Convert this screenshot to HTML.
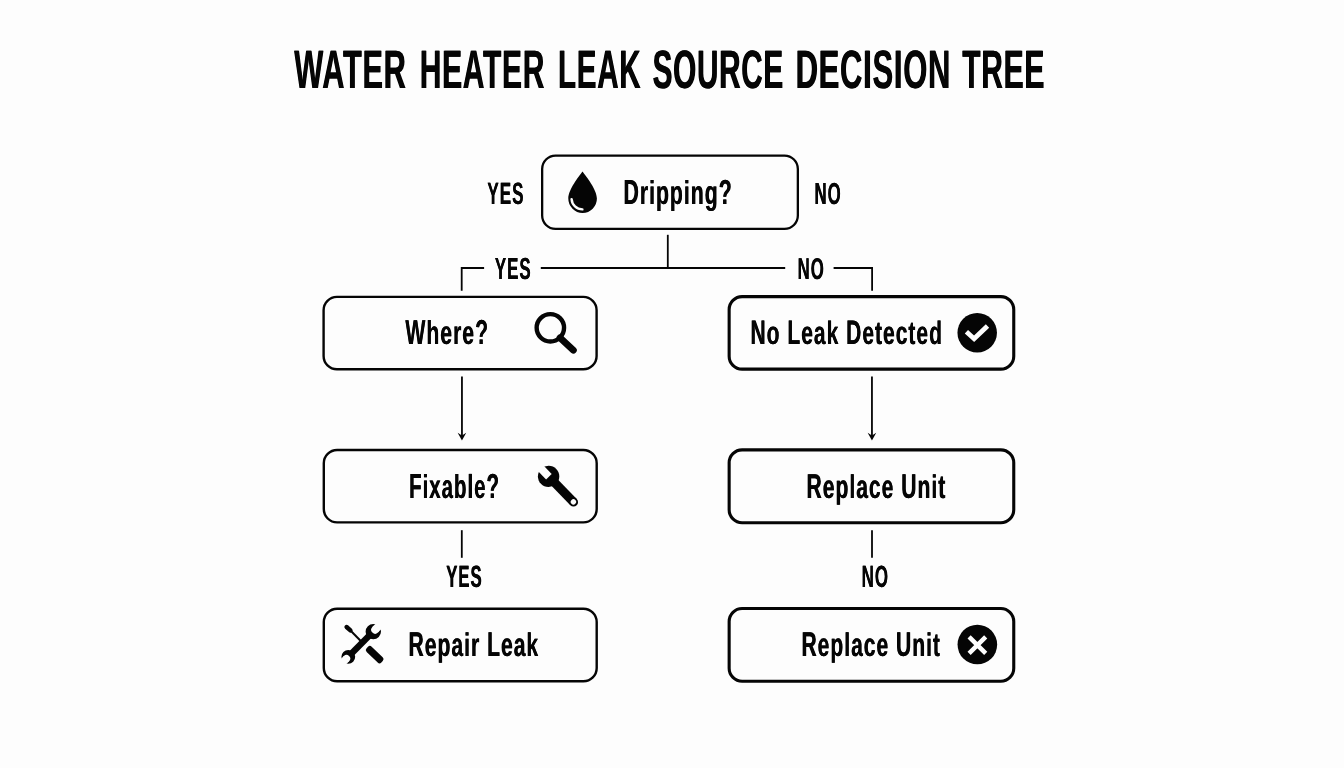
<!DOCTYPE html>
<html><head><meta charset="utf-8"><title>Water Heater Leak Source Decision Tree</title>
<style>html,body{margin:0;padding:0;background:#fdfdfd;}body{width:1344px;height:768px;overflow:hidden;font-family:"Liberation Sans",sans-serif;}svg{display:block}</style></head>
<body><svg width="1344" height="768" viewBox="0 0 1344 768">
<rect width="1344" height="768" fill="#fdfdfd"/>
<rect x="542.15" y="155.65" width="255.70" height="73.20" rx="13.35" fill="#fdfdfd" stroke="#050505" stroke-width="2.3"/>
<rect x="323.60" y="296.90" width="273.00" height="72.40" rx="13.30" fill="#fdfdfd" stroke="#050505" stroke-width="2.4"/>
<rect x="729.15" y="296.65" width="284.60" height="72.50" rx="12.95" fill="#fdfdfd" stroke="#050505" stroke-width="3.1"/>
<rect x="323.80" y="450.00" width="272.90" height="72.40" rx="13.30" fill="#fdfdfd" stroke="#050505" stroke-width="2.4"/>
<rect x="729.15" y="449.85" width="284.60" height="72.90" rx="12.95" fill="#fdfdfd" stroke="#050505" stroke-width="3.1"/>
<rect x="323.80" y="608.80" width="272.90" height="72.40" rx="13.30" fill="#fdfdfd" stroke="#050505" stroke-width="2.4"/>
<rect x="729.15" y="608.55" width="284.60" height="72.70" rx="12.95" fill="#fdfdfd" stroke="#050505" stroke-width="3.1"/>
<line x1="667.8" y1="234.8" x2="667.8" y2="268" fill="none" stroke="#050505" stroke-width="1.8"/>
<polyline points="484.1,268 461.7,268 461.7,290.8" fill="none" stroke="#050505" stroke-width="1.8" stroke-linejoin="miter"/>
<line x1="540.8" y1="268" x2="785.2" y2="268" fill="none" stroke="#050505" stroke-width="1.8"/>
<polyline points="833.6,268 872.1,268 872.1,290.8" fill="none" stroke="#050505" stroke-width="1.8" stroke-linejoin="miter"/>
<line x1="461.95" y1="376.5" x2="461.95" y2="436.4" fill="none" stroke="#050505" stroke-width="1.8"/><polygon points="457.65,432.79999999999995 461.95,440.4 466.25,432.79999999999995 461.95,435.4" fill="#050505"/>
<line x1="871.95" y1="376.5" x2="871.95" y2="436.4" fill="none" stroke="#050505" stroke-width="1.8"/><polygon points="867.6500000000001,432.79999999999995 871.95,440.4 876.25,432.79999999999995 871.95,435.4" fill="#050505"/>
<line x1="461.8" y1="530.2" x2="461.8" y2="557.8" fill="none" stroke="#050505" stroke-width="1.8"/>
<line x1="872" y1="530.2" x2="872" y2="557.8" fill="none" stroke="#050505" stroke-width="1.8"/>
<path d="M582.5 171.6 C579 176.5 568.3 189.5 568.3 198.6 A14.3 14.3 0 0 0 596.9 198.6 C596.9 189.5 586 176.5 582.5 171.6 Z" fill="#050505"/>
<path d="M571.6 199.2 A10.9 10.9 0 0 0 582.4 209.4" fill="none" stroke="#fdfdfd" stroke-width="2.4" stroke-linecap="round"/>
<circle cx="550.35" cy="327.8" r="13.7" fill="none" stroke="#050505" stroke-width="4.4"/>
<line x1="560" y1="337.8" x2="573.4" y2="350.2" stroke="#050505" stroke-width="6.8" stroke-linecap="round"/>
<circle cx="977.2" cy="332.75" r="19.75" fill="#050505"/>
<polyline points="966.4,331.8 974.1,338.8 987.5,325.9" fill="none" stroke="#fdfdfd" stroke-width="4.8" stroke-linejoin="miter"/>
<circle cx="977.35" cy="644.55" r="19.8" fill="#050505"/>
<path d="M969.1 636.9 L985.7 653.3 M985.7 636.9 L969.1 653.3" fill="none" stroke="#fdfdfd" stroke-width="4.5"/>
<g transform="translate(548.6,476.4) rotate(45.8)">
<circle cx="0" cy="0" r="10.7" fill="#050505"/>
<rect x="0" y="-4.5" width="35.8" height="9" fill="#050505"/>
<circle cx="35.8" cy="0" r="4.5" fill="#050505"/>
<rect x="-12" y="-3.9" width="12.4" height="7.8" fill="#fdfdfd"/>
<circle cx="35.6" cy="0" r="2.7" fill="#fdfdfd"/>
</g>
<defs><mask id="wm" maskUnits="userSpaceOnUse" x="330" y="610" width="70" height="70">
<rect x="330" y="610" width="70" height="70" fill="black"/>
<g transform="translate(348.3,656.8) rotate(-45.23)">
<rect x="0" y="-3.2" width="35.50" height="6.4" fill="white"/>
<circle cx="35.50" cy="0" r="7.7" fill="white"/>
<circle cx="0" cy="0" r="6.9" fill="white"/>
<circle cx="38.10" cy="0" r="3.9" fill="black"/>
<rect x="38.10" y="-3.9" width="10" height="7.8" fill="black"/>
<circle cx="-2.6" cy="0" r="3.7" fill="black"/>
<rect x="-12.6" y="-3.7" width="10" height="7.4" fill="black"/>
</g></mask></defs>
<line x1="346.6" y1="627" x2="350.4" y2="630.4" stroke="#050505" stroke-width="4.4" stroke-linecap="round"/>
<line x1="350" y1="630" x2="362" y2="642.3" stroke="#050505" stroke-width="2"/>
<rect x="0" y="-3.6" width="20.5" height="7.2" rx="2.6" fill="#050505" transform="translate(367.3,647.5) rotate(44)"/>
<rect x="330" y="610" width="70" height="70" fill="#050505" mask="url(#wm)"/>

<g fill="#050505" font-family="Liberation Sans" font-weight="bold" text-rendering="geometricPrecision" opacity="0.999"><text transform="translate(294.00,87.6) scale(0.5673,1)" font-size="54.215">W</text><text transform="translate(322.02,87.6) scale(0.5673,1)" font-size="54.215">A</text><text transform="translate(342.65,87.6) scale(0.5673,1)" font-size="54.215">T</text><text transform="translate(362.13,87.6) scale(0.5673,1)" font-size="54.215">E</text><text transform="translate(383.34,87.6) scale(0.5673,1)" font-size="54.215">R</text><text transform="translate(294.60,87.6) scale(0.5673,1)" font-size="54.215">W</text><text transform="translate(322.62,87.6) scale(0.5673,1)" font-size="54.215">A</text><text transform="translate(343.25,87.6) scale(0.5673,1)" font-size="54.215">T</text><text transform="translate(362.73,87.6) scale(0.5673,1)" font-size="54.215">E</text><text transform="translate(383.94,87.6) scale(0.5673,1)" font-size="54.215">R</text><text transform="translate(419.45,87.6) scale(0.5534,1)" font-size="54.215">H</text><text transform="translate(441.81,87.6) scale(0.5534,1)" font-size="54.215">E</text><text transform="translate(462.51,87.6) scale(0.5534,1)" font-size="54.215">A</text><text transform="translate(482.65,87.6) scale(0.5534,1)" font-size="54.215">T</text><text transform="translate(501.67,87.6) scale(0.5534,1)" font-size="54.215">E</text><text transform="translate(522.38,87.6) scale(0.5534,1)" font-size="54.215">R</text><text transform="translate(420.05,87.6) scale(0.5534,1)" font-size="54.215">H</text><text transform="translate(442.41,87.6) scale(0.5534,1)" font-size="54.215">E</text><text transform="translate(463.11,87.6) scale(0.5534,1)" font-size="54.215">A</text><text transform="translate(483.25,87.6) scale(0.5534,1)" font-size="54.215">T</text><text transform="translate(502.27,87.6) scale(0.5534,1)" font-size="54.215">E</text><text transform="translate(522.98,87.6) scale(0.5534,1)" font-size="54.215">R</text><text transform="translate(557.68,87.6) scale(0.546,1)" font-size="54.215">L</text><text transform="translate(576.46,87.6) scale(0.546,1)" font-size="54.215">E</text><text transform="translate(596.89,87.6) scale(0.546,1)" font-size="54.215">A</text><text transform="translate(618.97,87.6) scale(0.546,1)" font-size="54.215">K</text><text transform="translate(558.28,87.6) scale(0.546,1)" font-size="54.215">L</text><text transform="translate(577.06,87.6) scale(0.546,1)" font-size="54.215">E</text><text transform="translate(597.49,87.6) scale(0.546,1)" font-size="54.215">A</text><text transform="translate(619.57,87.6) scale(0.546,1)" font-size="54.215">K</text><text transform="translate(652.31,87.6) scale(0.5481,1)" font-size="54.215">S</text><text transform="translate(672.82,87.6) scale(0.5481,1)" font-size="54.215">O</text><text transform="translate(696.63,87.6) scale(0.5481,1)" font-size="54.215">U</text><text transform="translate(718.78,87.6) scale(0.5481,1)" font-size="54.215">R</text><text transform="translate(740.94,87.6) scale(0.5481,1)" font-size="54.215">C</text><text transform="translate(763.09,87.6) scale(0.5481,1)" font-size="54.215">E</text><text transform="translate(652.91,87.6) scale(0.5481,1)" font-size="54.215">S</text><text transform="translate(673.42,87.6) scale(0.5481,1)" font-size="54.215">O</text><text transform="translate(697.23,87.6) scale(0.5481,1)" font-size="54.215">U</text><text transform="translate(719.38,87.6) scale(0.5481,1)" font-size="54.215">R</text><text transform="translate(741.54,87.6) scale(0.5481,1)" font-size="54.215">C</text><text transform="translate(763.69,87.6) scale(0.5481,1)" font-size="54.215">E</text><text transform="translate(795.28,87.6) scale(0.5722,1)" font-size="54.215">D</text><text transform="translate(818.37,87.6) scale(0.5722,1)" font-size="54.215">E</text><text transform="translate(839.76,87.6) scale(0.5722,1)" font-size="54.215">C</text><text transform="translate(862.86,87.6) scale(0.5722,1)" font-size="54.215">I</text><text transform="translate(872.18,87.6) scale(0.5722,1)" font-size="54.215">S</text><text transform="translate(893.56,87.6) scale(0.5722,1)" font-size="54.215">I</text><text transform="translate(902.88,87.6) scale(0.5722,1)" font-size="54.215">O</text><text transform="translate(927.70,87.6) scale(0.5722,1)" font-size="54.215">N</text><text transform="translate(795.88,87.6) scale(0.5722,1)" font-size="54.215">D</text><text transform="translate(818.97,87.6) scale(0.5722,1)" font-size="54.215">E</text><text transform="translate(840.36,87.6) scale(0.5722,1)" font-size="54.215">C</text><text transform="translate(863.46,87.6) scale(0.5722,1)" font-size="54.215">I</text><text transform="translate(872.78,87.6) scale(0.5722,1)" font-size="54.215">S</text><text transform="translate(894.16,87.6) scale(0.5722,1)" font-size="54.215">I</text><text transform="translate(903.48,87.6) scale(0.5722,1)" font-size="54.215">O</text><text transform="translate(928.30,87.6) scale(0.5722,1)" font-size="54.215">N</text><text transform="translate(961.90,87.6) scale(0.5541,1)" font-size="54.215">T</text><text transform="translate(980.94,87.6) scale(0.5541,1)" font-size="54.215">R</text><text transform="translate(1003.33,87.6) scale(0.5541,1)" font-size="54.215">E</text><text transform="translate(1024.06,87.6) scale(0.5541,1)" font-size="54.215">E</text><text transform="translate(962.50,87.6) scale(0.5541,1)" font-size="54.215">T</text><text transform="translate(981.54,87.6) scale(0.5541,1)" font-size="54.215">R</text><text transform="translate(1003.93,87.6) scale(0.5541,1)" font-size="54.215">E</text><text transform="translate(1024.66,87.6) scale(0.5541,1)" font-size="54.215">E</text><text transform="translate(487.26,203.9) scale(0.5503,1)" font-size="30.959">Y</text><text transform="translate(499.61,203.9) scale(0.5503,1)" font-size="30.959">E</text><text transform="translate(511.96,203.9) scale(0.5503,1)" font-size="30.959">S</text><text transform="translate(487.61,203.9) scale(0.5503,1)" font-size="30.959">Y</text><text transform="translate(499.96,203.9) scale(0.5503,1)" font-size="30.959">E</text><text transform="translate(512.31,203.9) scale(0.5503,1)" font-size="30.959">S</text><text transform="translate(814.31,203.9) scale(0.5507,1)" font-size="30.523">N</text><text transform="translate(827.44,203.9) scale(0.5507,1)" font-size="30.523">O</text><text transform="translate(814.66,203.9) scale(0.5507,1)" font-size="30.523">N</text><text transform="translate(827.79,203.9) scale(0.5507,1)" font-size="30.523">O</text><text transform="translate(623.32,203.6) scale(0.6085,1)" font-size="34.884">D</text><text transform="translate(639.64,203.6) scale(0.6085,0.954)" font-size="34.884">r</text><text transform="translate(648.90,203.6) scale(0.6085,0.954)" font-size="34.884">i</text><text transform="translate(655.80,203.6) scale(0.6085,0.954)" font-size="34.884">p</text><text transform="translate(669.76,203.6) scale(0.6085,0.954)" font-size="34.884">p</text><text transform="translate(683.72,203.6) scale(0.6085,0.954)" font-size="34.884">i</text><text transform="translate(690.62,203.6) scale(0.6085,0.954)" font-size="34.884">n</text><text transform="translate(704.57,203.6) scale(0.6085,0.954)" font-size="34.884">g</text><text transform="translate(718.54,203.6) scale(0.6085,1)" font-size="34.884">?</text><text transform="translate(623.67,203.6) scale(0.6085,1)" font-size="34.884">D</text><text transform="translate(639.99,203.6) scale(0.6085,0.954)" font-size="34.884">r</text><text transform="translate(649.25,203.6) scale(0.6085,0.954)" font-size="34.884">i</text><text transform="translate(656.15,203.6) scale(0.6085,0.954)" font-size="34.884">p</text><text transform="translate(670.11,203.6) scale(0.6085,0.954)" font-size="34.884">p</text><text transform="translate(684.07,203.6) scale(0.6085,0.954)" font-size="34.884">i</text><text transform="translate(690.97,203.6) scale(0.6085,0.954)" font-size="34.884">n</text><text transform="translate(704.92,203.6) scale(0.6085,0.954)" font-size="34.884">g</text><text transform="translate(718.89,203.6) scale(0.6085,1)" font-size="34.884">?</text><text transform="translate(494.66,279.2) scale(0.5548,1)" font-size="30.523">Y</text><text transform="translate(506.95,279.2) scale(0.5548,1)" font-size="30.523">E</text><text transform="translate(519.24,279.2) scale(0.5548,1)" font-size="30.523">S</text><text transform="translate(495.01,279.2) scale(0.5548,1)" font-size="30.523">Y</text><text transform="translate(507.30,279.2) scale(0.5548,1)" font-size="30.523">E</text><text transform="translate(519.59,279.2) scale(0.5548,1)" font-size="30.523">S</text><text transform="translate(797.51,279.0) scale(0.5537,1)" font-size="30.233">N</text><text transform="translate(810.59,279.0) scale(0.5537,1)" font-size="30.233">O</text><text transform="translate(797.86,279.0) scale(0.5537,1)" font-size="30.233">N</text><text transform="translate(810.94,279.0) scale(0.5537,1)" font-size="30.233">O</text><text transform="translate(405.20,344.3) scale(0.6122,1)" font-size="34.593">W</text><text transform="translate(426.18,344.3) scale(0.6122,0.954)" font-size="34.593">h</text><text transform="translate(440.11,344.3) scale(0.6122,0.954)" font-size="34.593">e</text><text transform="translate(452.88,344.3) scale(0.6122,0.954)" font-size="34.593">r</text><text transform="translate(462.12,344.3) scale(0.6122,0.954)" font-size="34.593">e</text><text transform="translate(474.89,344.3) scale(0.6122,1)" font-size="34.593">?</text><text transform="translate(405.55,344.3) scale(0.6122,1)" font-size="34.593">W</text><text transform="translate(426.53,344.3) scale(0.6122,0.954)" font-size="34.593">h</text><text transform="translate(440.46,344.3) scale(0.6122,0.954)" font-size="34.593">e</text><text transform="translate(453.23,344.3) scale(0.6122,0.954)" font-size="34.593">r</text><text transform="translate(462.47,344.3) scale(0.6122,0.954)" font-size="34.593">e</text><text transform="translate(475.24,344.3) scale(0.6122,1)" font-size="34.593">?</text><text transform="translate(750.33,344.0) scale(0.6185,1)" font-size="34.012">N</text><text transform="translate(766.51,344.0) scale(0.6185,0.954)" font-size="34.012">o</text><text transform="translate(787.20,344.0) scale(0.6185,1)" font-size="34.012">L</text><text transform="translate(801.05,344.0) scale(0.6185,0.954)" font-size="34.012">e</text><text transform="translate(813.74,344.0) scale(0.6185,0.954)" font-size="34.012">a</text><text transform="translate(826.43,344.0) scale(0.6185,0.954)" font-size="34.012">k</text><text transform="translate(845.98,344.0) scale(0.6185,1)" font-size="34.012">D</text><text transform="translate(862.16,344.0) scale(0.6185,0.954)" font-size="34.012">e</text><text transform="translate(874.85,344.0) scale(0.6185,0.954)" font-size="34.012">t</text><text transform="translate(882.86,344.0) scale(0.6185,0.954)" font-size="34.012">e</text><text transform="translate(895.55,344.0) scale(0.6185,0.954)" font-size="34.012">c</text><text transform="translate(908.25,344.0) scale(0.6185,0.954)" font-size="34.012">t</text><text transform="translate(916.25,344.0) scale(0.6185,0.954)" font-size="34.012">e</text><text transform="translate(928.95,344.0) scale(0.6185,0.954)" font-size="34.012">d</text><text transform="translate(750.68,344.0) scale(0.6185,1)" font-size="34.012">N</text><text transform="translate(766.86,344.0) scale(0.6185,0.954)" font-size="34.012">o</text><text transform="translate(787.55,344.0) scale(0.6185,1)" font-size="34.012">L</text><text transform="translate(801.40,344.0) scale(0.6185,0.954)" font-size="34.012">e</text><text transform="translate(814.09,344.0) scale(0.6185,0.954)" font-size="34.012">a</text><text transform="translate(826.78,344.0) scale(0.6185,0.954)" font-size="34.012">k</text><text transform="translate(846.33,344.0) scale(0.6185,1)" font-size="34.012">D</text><text transform="translate(862.51,344.0) scale(0.6185,0.954)" font-size="34.012">e</text><text transform="translate(875.20,344.0) scale(0.6185,0.954)" font-size="34.012">t</text><text transform="translate(883.21,344.0) scale(0.6185,0.954)" font-size="34.012">e</text><text transform="translate(895.90,344.0) scale(0.6185,0.954)" font-size="34.012">c</text><text transform="translate(908.60,344.0) scale(0.6185,0.954)" font-size="34.012">t</text><text transform="translate(916.60,344.0) scale(0.6185,0.954)" font-size="34.012">e</text><text transform="translate(929.30,344.0) scale(0.6185,0.954)" font-size="34.012">d</text><text transform="translate(408.97,498) scale(0.5854,1)" font-size="34.884">F</text><text transform="translate(422.43,498) scale(0.5854,0.954)" font-size="34.884">i</text><text transform="translate(429.11,498) scale(0.5854,0.954)" font-size="34.884">x</text><text transform="translate(441.46,498) scale(0.5854,0.954)" font-size="34.884">a</text><text transform="translate(453.82,498) scale(0.5854,0.954)" font-size="34.884">b</text><text transform="translate(467.29,498) scale(0.5854,0.954)" font-size="34.884">l</text><text transform="translate(473.96,498) scale(0.5854,0.954)" font-size="34.884">e</text><text transform="translate(486.32,498) scale(0.5854,1)" font-size="34.884">?</text><text transform="translate(409.32,498) scale(0.5854,1)" font-size="34.884">F</text><text transform="translate(422.78,498) scale(0.5854,0.954)" font-size="34.884">i</text><text transform="translate(429.46,498) scale(0.5854,0.954)" font-size="34.884">x</text><text transform="translate(441.81,498) scale(0.5854,0.954)" font-size="34.884">a</text><text transform="translate(454.17,498) scale(0.5854,0.954)" font-size="34.884">b</text><text transform="translate(467.64,498) scale(0.5854,0.954)" font-size="34.884">l</text><text transform="translate(474.31,498) scale(0.5854,0.954)" font-size="34.884">e</text><text transform="translate(486.67,498) scale(0.5854,1)" font-size="34.884">?</text><text transform="translate(806.33,498) scale(0.6124,1)" font-size="34.448">R</text><text transform="translate(822.56,498) scale(0.6124,0.954)" font-size="34.448">e</text><text transform="translate(835.28,498) scale(0.6124,0.954)" font-size="34.448">p</text><text transform="translate(849.17,498) scale(0.6124,0.954)" font-size="34.448">l</text><text transform="translate(856.03,498) scale(0.6124,0.954)" font-size="34.448">a</text><text transform="translate(868.76,498) scale(0.6124,0.954)" font-size="34.448">c</text><text transform="translate(881.48,498) scale(0.6124,0.954)" font-size="34.448">e</text><text transform="translate(901.07,498) scale(0.6124,1)" font-size="34.448">U</text><text transform="translate(917.30,498) scale(0.6124,0.954)" font-size="34.448">n</text><text transform="translate(931.18,498) scale(0.6124,0.954)" font-size="34.448">i</text><text transform="translate(938.04,498) scale(0.6124,0.954)" font-size="34.448">t</text><text transform="translate(806.68,498) scale(0.6124,1)" font-size="34.448">R</text><text transform="translate(822.91,498) scale(0.6124,0.954)" font-size="34.448">e</text><text transform="translate(835.63,498) scale(0.6124,0.954)" font-size="34.448">p</text><text transform="translate(849.52,498) scale(0.6124,0.954)" font-size="34.448">l</text><text transform="translate(856.38,498) scale(0.6124,0.954)" font-size="34.448">a</text><text transform="translate(869.11,498) scale(0.6124,0.954)" font-size="34.448">c</text><text transform="translate(881.83,498) scale(0.6124,0.954)" font-size="34.448">e</text><text transform="translate(901.42,498) scale(0.6124,1)" font-size="34.448">U</text><text transform="translate(917.65,498) scale(0.6124,0.954)" font-size="34.448">n</text><text transform="translate(931.53,498) scale(0.6124,0.954)" font-size="34.448">i</text><text transform="translate(938.39,498) scale(0.6124,0.954)" font-size="34.448">t</text><text transform="translate(446.07,587) scale(0.5428,1)" font-size="30.814">Y</text><text transform="translate(458.22,587) scale(0.5428,1)" font-size="30.814">E</text><text transform="translate(470.37,587) scale(0.5428,1)" font-size="30.814">S</text><text transform="translate(446.42,587) scale(0.5428,1)" font-size="30.814">Y</text><text transform="translate(458.57,587) scale(0.5428,1)" font-size="30.814">E</text><text transform="translate(470.72,587) scale(0.5428,1)" font-size="30.814">S</text><text transform="translate(861.50,587) scale(0.5502,1)" font-size="30.814">N</text><text transform="translate(874.73,587) scale(0.5502,1)" font-size="30.814">O</text><text transform="translate(861.85,587) scale(0.5502,1)" font-size="30.814">N</text><text transform="translate(875.08,587) scale(0.5502,1)" font-size="30.814">O</text><text transform="translate(408.33,656.1) scale(0.613,1)" font-size="34.448">R</text><text transform="translate(424.57,656.1) scale(0.613,0.954)" font-size="34.448">e</text><text transform="translate(437.31,656.1) scale(0.613,0.954)" font-size="34.448">p</text><text transform="translate(451.20,656.1) scale(0.613,0.954)" font-size="34.448">a</text><text transform="translate(463.95,656.1) scale(0.613,0.954)" font-size="34.448">i</text><text transform="translate(470.81,656.1) scale(0.613,0.954)" font-size="34.448">r</text><text transform="translate(486.89,656.1) scale(0.613,1)" font-size="34.448">L</text><text transform="translate(500.79,656.1) scale(0.613,0.954)" font-size="34.448">e</text><text transform="translate(513.53,656.1) scale(0.613,0.954)" font-size="34.448">a</text><text transform="translate(526.27,656.1) scale(0.613,0.954)" font-size="34.448">k</text><text transform="translate(408.68,656.1) scale(0.613,1)" font-size="34.448">R</text><text transform="translate(424.92,656.1) scale(0.613,0.954)" font-size="34.448">e</text><text transform="translate(437.66,656.1) scale(0.613,0.954)" font-size="34.448">p</text><text transform="translate(451.55,656.1) scale(0.613,0.954)" font-size="34.448">a</text><text transform="translate(464.30,656.1) scale(0.613,0.954)" font-size="34.448">i</text><text transform="translate(471.16,656.1) scale(0.613,0.954)" font-size="34.448">r</text><text transform="translate(487.24,656.1) scale(0.613,1)" font-size="34.448">L</text><text transform="translate(501.14,656.1) scale(0.613,0.954)" font-size="34.448">e</text><text transform="translate(513.88,656.1) scale(0.613,0.954)" font-size="34.448">a</text><text transform="translate(526.62,656.1) scale(0.613,0.954)" font-size="34.448">k</text><text transform="translate(801.33,656.1) scale(0.6109,1)" font-size="34.448">R</text><text transform="translate(817.52,656.1) scale(0.6109,0.954)" font-size="34.448">e</text><text transform="translate(830.21,656.1) scale(0.6109,0.954)" font-size="34.448">p</text><text transform="translate(844.07,656.1) scale(0.6109,0.954)" font-size="34.448">l</text><text transform="translate(850.92,656.1) scale(0.6109,0.954)" font-size="34.448">a</text><text transform="translate(863.61,656.1) scale(0.6109,0.954)" font-size="34.448">c</text><text transform="translate(876.32,656.1) scale(0.6109,0.954)" font-size="34.448">e</text><text transform="translate(895.86,656.1) scale(0.6109,1)" font-size="34.448">U</text><text transform="translate(912.06,656.1) scale(0.6109,0.954)" font-size="34.448">n</text><text transform="translate(925.91,656.1) scale(0.6109,0.954)" font-size="34.448">i</text><text transform="translate(932.75,656.1) scale(0.6109,0.954)" font-size="34.448">t</text><text transform="translate(801.68,656.1) scale(0.6109,1)" font-size="34.448">R</text><text transform="translate(817.87,656.1) scale(0.6109,0.954)" font-size="34.448">e</text><text transform="translate(830.56,656.1) scale(0.6109,0.954)" font-size="34.448">p</text><text transform="translate(844.42,656.1) scale(0.6109,0.954)" font-size="34.448">l</text><text transform="translate(851.27,656.1) scale(0.6109,0.954)" font-size="34.448">a</text><text transform="translate(863.96,656.1) scale(0.6109,0.954)" font-size="34.448">c</text><text transform="translate(876.67,656.1) scale(0.6109,0.954)" font-size="34.448">e</text><text transform="translate(896.21,656.1) scale(0.6109,1)" font-size="34.448">U</text><text transform="translate(912.41,656.1) scale(0.6109,0.954)" font-size="34.448">n</text><text transform="translate(926.26,656.1) scale(0.6109,0.954)" font-size="34.448">i</text><text transform="translate(933.10,656.1) scale(0.6109,0.954)" font-size="34.448">t</text></g>
</svg></body></html>
